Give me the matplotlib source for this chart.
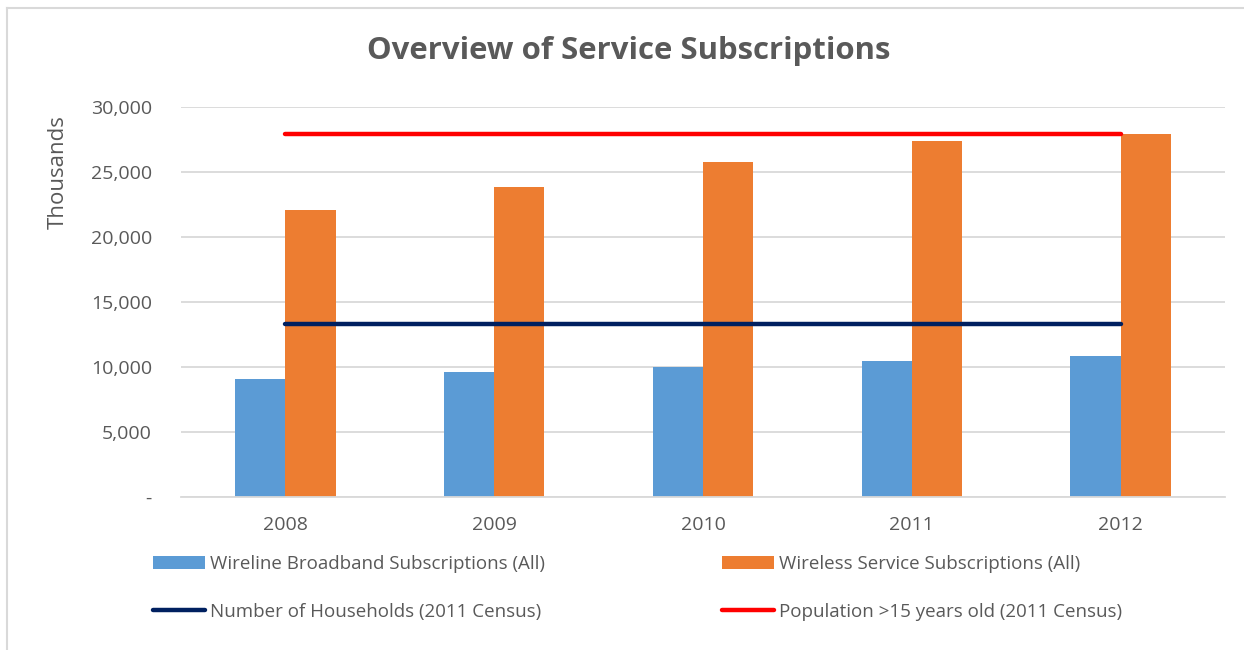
"""
Overview of Service Subscriptions - bar + reference lines
"""
import matplotlib
matplotlib.use("Agg")
import matplotlib.pyplot as plt
from matplotlib.lines import Line2D
import numpy as np

plt.rcParams['font.family'] = ['Open Sans', 'DejaVu Sans']

years = ['2008', '2009', '2010', '2011', '2012']
wireline = [9080, 9600, 10000, 10450, 10850]
wireless = [22100, 23850, 25800, 27400, 27900]
households = [13330, 13330, 13330, 13330, 13330]
population = [27900, 27900, 27900, 27900, 27900]
y_ticks = [0, 5000, 10000, 15000, 20000, 25000, 30000]

text_gray = '#595959'
grid_gray = '#D9D9D9'

fig = plt.figure(figsize=(12.44, 6.5), dpi=100)
ax = fig.add_axes([181 / 1244, 1 - 497 / 650, 1044 / 1244, 390 / 650])

x = np.arange(len(years))
w = 0.24
ax.bar(x - w / 2, wireline, w, color='#5B9BD5', label='Wireline Broadband Subscriptions (All)', zorder=2)
ax.bar(x + w / 2, wireless, w, color='#ED7D31', label='Wireless Service Subscriptions (All)', zorder=2)
ax.plot(x, households, color='#002060', lw=3.2, solid_capstyle='round',
        label='Number of Households (2011 Census)', zorder=3)
ax.plot(x, population, color='#FF0000', lw=3.2, solid_capstyle='round',
        label='Population >15 years old (2011 Census)', zorder=3)

ax.set_xlim(-0.5, 4.5)
ax.set_ylim(0, 30000)
ax.set_xticks(x)
ax.set_xticklabels(years)
ax.set_yticks(y_ticks)
ax.set_yticklabels(['-' if v == 0 else '{:,}'.format(v) for v in y_ticks])
ax.grid(axis='y', color=grid_gray, lw=1.3, zorder=0)
for s in ['top', 'right', 'left']:
    ax.spines[s].set_visible(False)
ax.spines['bottom'].set_color(grid_gray)
ax.spines['bottom'].set_linewidth(1.3)
ax.tick_params(length=0, labelsize=14, labelcolor=text_gray)
ax.tick_params(axis='y', pad=21)
ax.tick_params(axis='x', pad=14)

fig.text(629 / 1244, 1 - 51 / 650, 'Overview of Service Subscriptions', ha='center', va='center',
         fontsize=22.4, fontweight='bold', color=text_gray)
fig.text(58 / 1244, 1 - 172 / 650, 'Thousands', rotation=90, ha='center', va='center',
         fontsize=16, color=text_gray)

# 图例: 两列
h, l = ax.get_legend_handles_labels()
order = [2, 0, 3, 1]
leg = fig.legend([h[i] for i in order], [l[i] for i in order], ncol=2, frameon=False,
                 loc='upper left', bbox_to_anchor=(136 / 1244, 1 - 538 / 650),
                 fontsize=13.5, labelcolor=text_gray, handlelength=2.77, handleheight=0.7,
                 handletextpad=0.27, columnspacing=9.45, labelspacing=1.6)

# 外框
fig.add_artist(Line2D([7 / 1244, 1], [1 - 8 / 650, 1 - 8 / 650], color=grid_gray, lw=1.5))
fig.add_artist(Line2D([7 / 1244, 7 / 1244], [0, 1 - 8 / 650], color=grid_gray, lw=1.5))

plt.savefig('out.png', dpi=100)
